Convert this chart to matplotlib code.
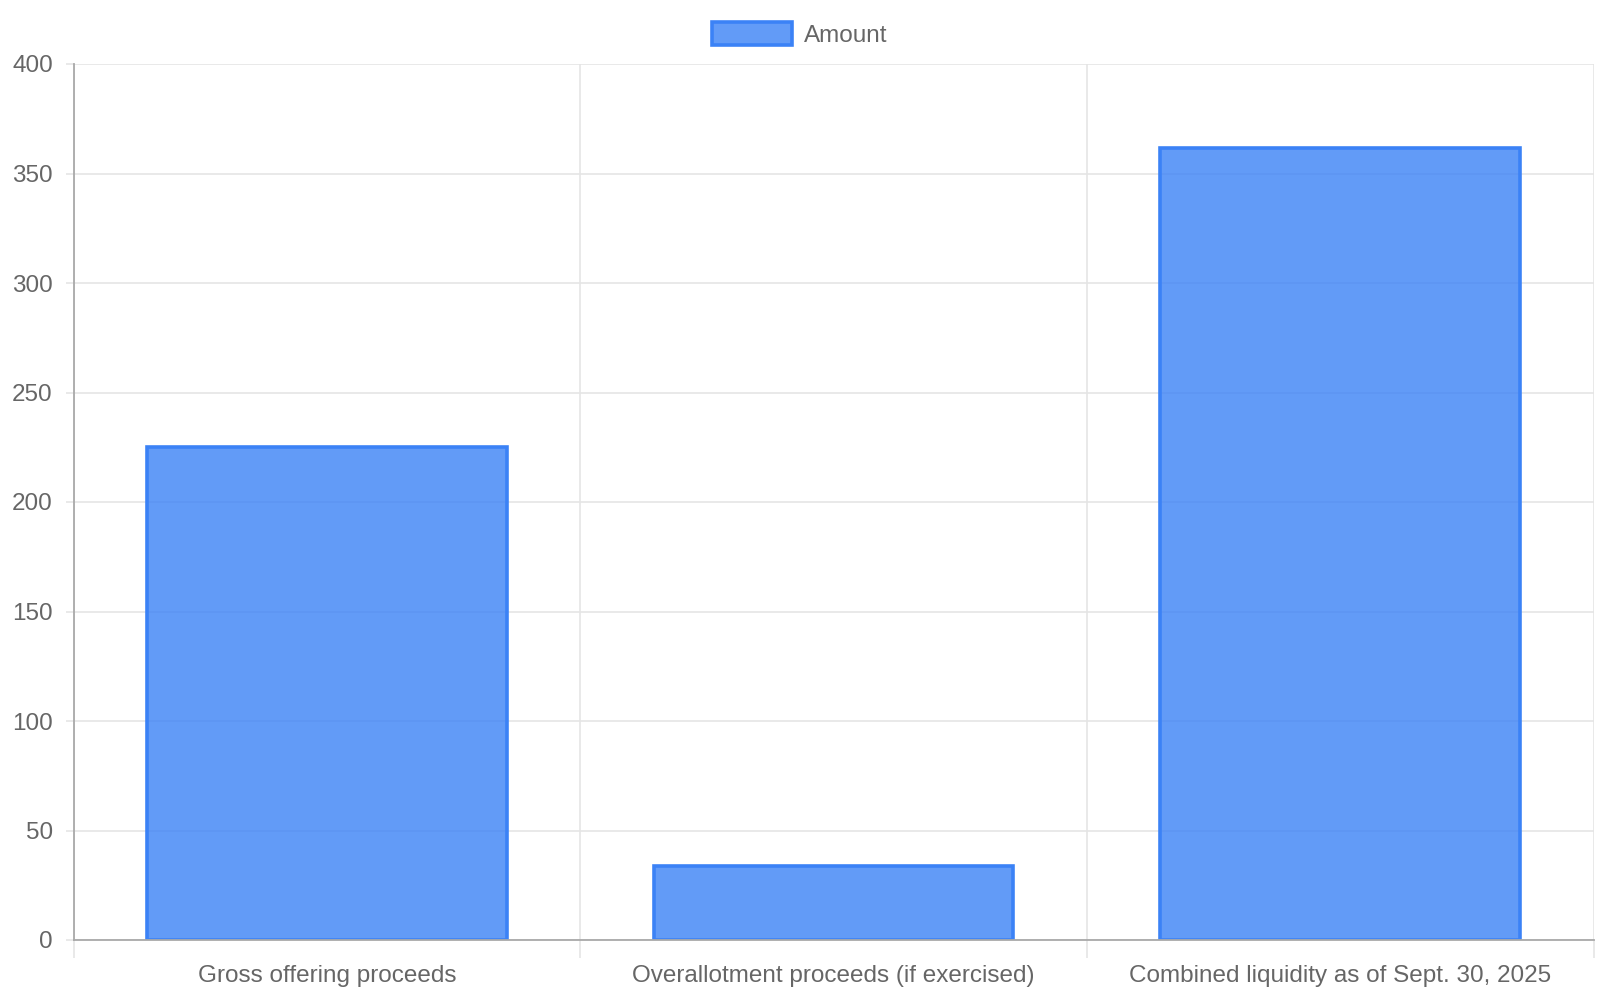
import numpy as np
import matplotlib
matplotlib.use("Agg")
import matplotlib.pyplot as plt

categories = ["Gross offering proceeds", "Overallotment proceeds (if exercised)",
              "Combined liquidity as of Sept. 30, 2025"]
amounts = [225, 33.75, 361.6]
series_name = "Amount"
yticks = [0, 50, 100, 150, 200, 250, 300, 350, 400]

plt.rcParams['font.family'] = ['Liberation Sans', 'DejaVu Sans']
text_col = "#666666"
grid_col = "#e5e5e5"
axis_col = "#a9a9a9"

fig = plt.figure(figsize=(16, 10), dpi=100)
ax = fig.add_axes([0.046, 0.06, 0.95, 0.876])

x = np.arange(len(categories))
ax.bar(x, amounts, width=0.71, color=(59/255, 130/255, 246/255, 0.8),
       edgecolor="#3b82f6", linewidth=2.6, label=series_name, zorder=3)

ax.set_xlim(-0.5, len(categories) - 0.5)
ax.set_ylim(0, 400)
ax.set_yticks(yticks)
ax.set_xticks(x)
ax.set_xticklabels(categories)
ax.set_xticks(np.arange(len(categories) + 1) - 0.5, minor=True)

ax.grid(axis="y", which="major", color=grid_col, linewidth=1.2, zorder=0)
ax.grid(axis="x", which="minor", color=grid_col, linewidth=1.2, zorder=0)

ax.tick_params(axis="y", length=6, width=1.2, color=grid_col, pad=9,
               labelsize=17.5, labelcolor=text_col)
ax.tick_params(axis="x", which="major", length=0, pad=18,
               labelsize=17.5, labelcolor=text_col)
ax.tick_params(axis="x", which="minor", length=13, width=1.2, color=grid_col)

for s in ["top", "right"]:
    ax.spines[s].set_visible(False)
for s in ["left", "bottom"]:
    ax.spines[s].set_color(axis_col)
    ax.spines[s].set_linewidth(1.3)
    ax.spines[s].set_zorder(4)

fig.legend(loc="upper center", bbox_to_anchor=(0.5, 1.0), frameon=False,
           fontsize=17.5, labelcolor=text_col, handlelength=3.3, handleheight=1.1,
           handletextpad=0.5)

fig.savefig("out.png", dpi=100)
